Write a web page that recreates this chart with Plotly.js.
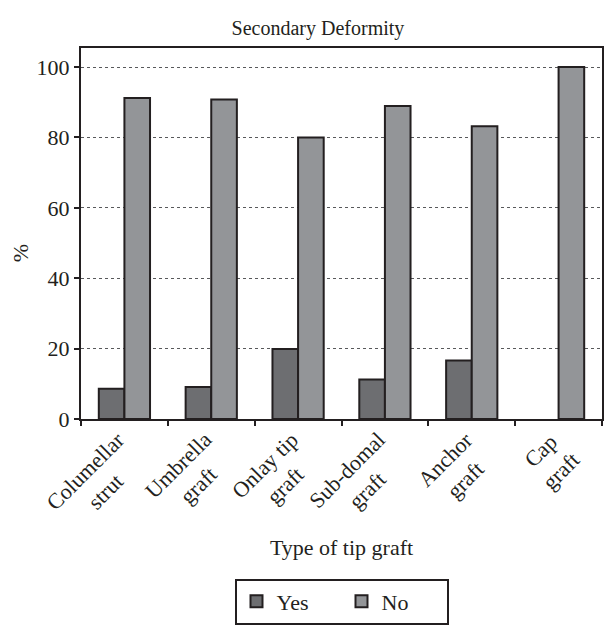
<!DOCTYPE html>
<html>
<head>
<meta charset="utf-8">
<script src="https://cdn.plot.ly/plotly-3.0.1.min.js"></script>
<style>html,body{margin:0;padding:0;background:#fff;}#chart{width:608px;height:633px;}</style>
</head>
<body>
<div id="chart"></div>
<script>
const categories = ["Columellar<br>strut", "Umbrella<br>graft", "Onlay tip<br>graft", "Sub-domal<br>graft", "Anchor<br>graft", "Cap<br>graft"];
const yesValues = [8.6, 9.1, 19.9, 11.2, 16.6, 0];
const noValues = [91.2, 90.8, 80.0, 88.9, 83.2, 100];
const yTicks = [0, 20, 40, 60, 80, 100];

const font = {family: "Liberation Serif, Times New Roman, serif", color: "#231f20"};
const f = (s) => Object.assign({size: s}, font);

const traces = [
  {type: "bar", name: "Yes", x: categories, y: yesValues,
   marker: {color: "#6d6e71", line: {color: "#231f20", width: yesValues.map(v => v > 0 ? 2 : 0)}}},
  {type: "bar", name: "No", x: categories, y: noValues,
   marker: {color: "#939598", line: {color: "#231f20", width: noValues.map(v => v > 0 ? 2 : 0)}}}
];

// Rotated, centre-aligned category labels placed at each category through the x axis
const labelAnnotations = categories.map((c, i) => ({
  x: i, xref: "x", y: 0, yref: "paper",
  text: c, showarrow: false, textangle: -45, align: "center",
  xanchor: "right", yanchor: "top", xshift: 29, yshift: -5,
  font: f(22)
}));

// y axis title, placed as in the original (slightly below the plot centre)
const yTitle = {
  x: 0, xref: "paper", y: 0.447, yref: "paper",
  text: "%", showarrow: false, textangle: -90,
  xanchor: "center", yanchor: "middle", xshift: -61,
  font: f(22)
};

const layout = {
  width: 608, height: 633,
  margin: {l: 81, r: 6, t: 48, b: 214},
  paper_bgcolor: "#fff", plot_bgcolor: "#fff",
  font: f(22),
  title: {text: "Secondary Deformity", x: 0.523, xanchor: "center", y: 0.956, yanchor: "middle",
          font: f(20)},
  barmode: "group",
  bargap: 0.41,
  bargroupgap: 0,
  showlegend: true,
  legend: {orientation: "h", x: 0.5, xanchor: "center", y: -0.43, yanchor: "top",
           bgcolor: "#fff", bordercolor: "#231f20", borderwidth: 2,
           entrywidth: 60, entrywidthmode: "pixels",
           font: f(22), traceorder: "normal"},
  annotations: labelAnnotations.concat([yTitle]),
  xaxis: {
    type: "category", range: [-0.5, categories.length - 0.5], autorange: false,
    tickson: "boundaries", showticklabels: false,
    ticks: "outside", ticklen: 5, tickwidth: 2, tickcolor: "#231f20",
    showline: true, linecolor: "#231f20", linewidth: 2, mirror: true,
    showgrid: false, automargin: false,
    title: {text: "Type of tip graft", font: f(22), standoff: 120}
  },
  yaxis: {
    range: [0, 105.4], autorange: false, tickvals: yTicks, ticktext: yTicks.map(String),
    ticks: "outside", ticklen: 5, tickwidth: 2, tickcolor: "#231f20",
    showline: true, linecolor: "#231f20", linewidth: 2, mirror: true,
    showgrid: true, gridcolor: "#58595b", gridwidth: 1, griddash: "dot",
    zeroline: false, automargin: false,
    tickfont: f(22)
  }
};

Plotly.newPlot("chart", traces, layout, {displayModeBar: false, staticPlot: true});
</script>
</body>
</html>
